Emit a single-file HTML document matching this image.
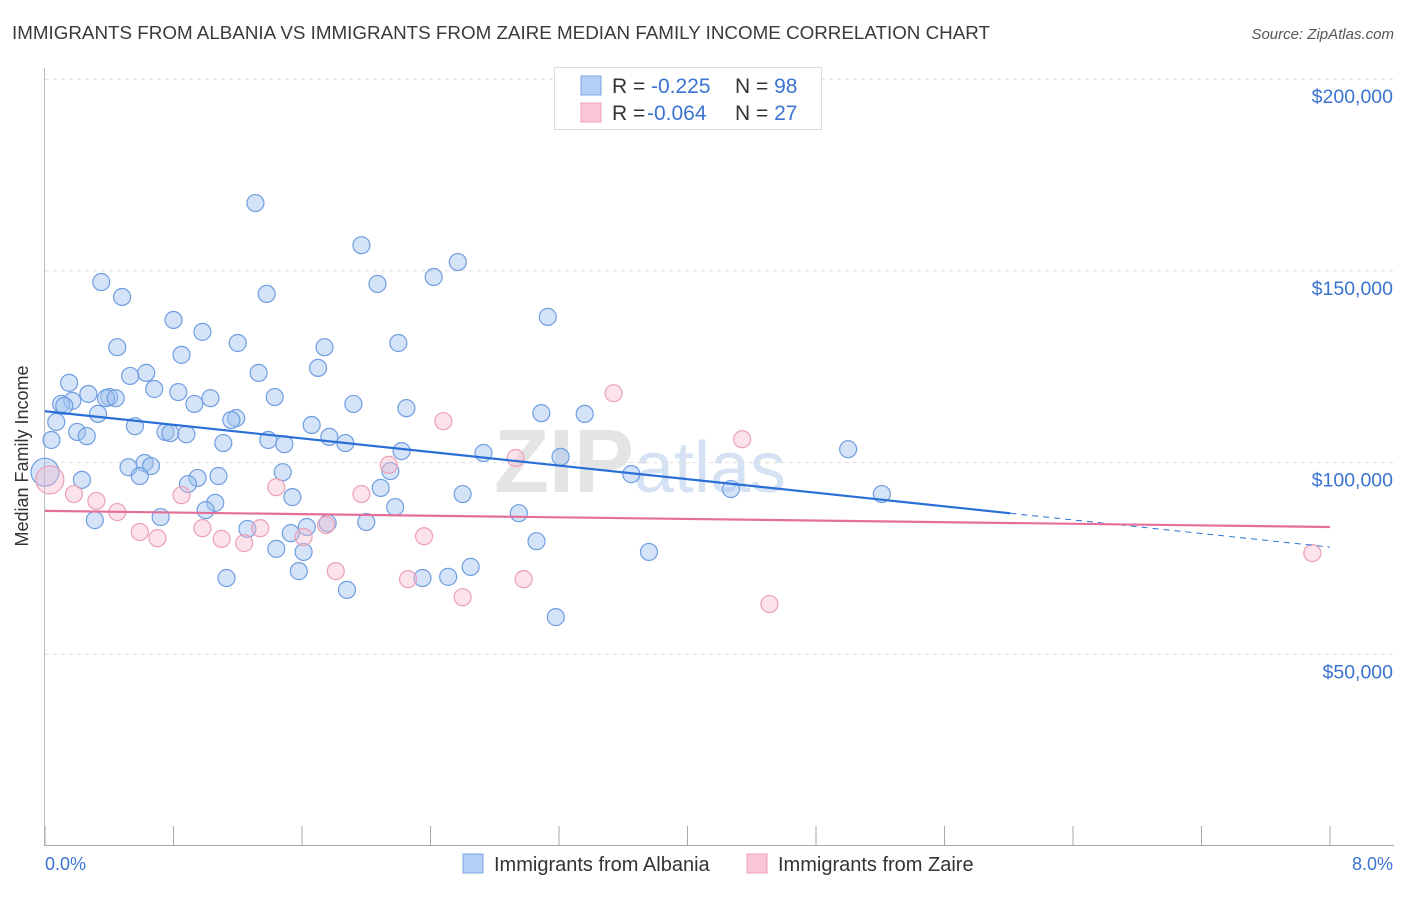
<!DOCTYPE html>
<html><head><meta charset="utf-8"><style>
body{margin:0;background:#fff;font-family:"Liberation Sans",sans-serif;}
svg text{font-family:"Liberation Sans",sans-serif;}
</style></head><body>
<svg id="chart" width="1406" height="892" xmlns="http://www.w3.org/2000/svg">
<text x="12" y="39" font-size="18.8" fill="#3a3a3a" textLength="978">IMMIGRANTS FROM ALBANIA VS IMMIGRANTS FROM ZAIRE MEDIAN FAMILY INCOME CORRELATION CHART</text>
<text x="1394" y="39" font-size="15" fill="#555" font-style="italic" text-anchor="end">Source: ZipAtlas.com</text>
<text x="640" y="492" font-size="90" fill="#e4e4e4" font-family="Liberation Serif" font-weight="bold" text-anchor="middle">ZIP<tspan fill="#d5e2f3" font-family="Liberation Sans" font-weight="normal" font-size="72">atlas</tspan></text>
<g id="grid"></g><g id="marks"></g>
<text transform="translate(28,456) rotate(-90)" font-size="18" fill="#333" text-anchor="middle">Median Family Income</text>
<text x="45" y="870" font-size="18" fill="#3a73d0">0.0%</text>
<text x="1393" y="870" font-size="18" fill="#3a73d0" text-anchor="end">8.0%</text>
<g>
<rect x="554.5" y="67.5" width="267" height="62" fill="#fff" stroke="#ddd"/>
<rect x="581" y="76" width="20" height="19" fill="#b4cff5" stroke="#7aa6e0"/>
<rect x="581" y="103" width="20" height="19" fill="#fac6d6" stroke="#eda0b8"/>
<text x="612" y="93" font-size="21" fill="#333">R = <tspan x="651" fill="#3a73d0">-0.225</tspan><tspan x="735">N = </tspan><tspan fill="#3a73d0">98</tspan></text>
<text x="612" y="120" font-size="21" fill="#333">R = <tspan x="647" fill="#3a73d0">-0.064</tspan><tspan x="735">N = </tspan><tspan fill="#3a73d0">27</tspan></text>
</g>
<g>
<rect x="463" y="854" width="20" height="19" fill="#b4cff5" stroke="#7aa6e0"/>
<text x="494" y="871" font-size="20" fill="#333">Immigrants from Albania</text>
<rect x="747" y="854" width="20" height="19" fill="#fac6d6" stroke="#eda0b8"/>
<text x="778" y="871" font-size="20" fill="#333">Immigrants from Zaire</text>
</g>
</svg>
<script>
const yTicks=[50000,100000,150000,200000];
const yTickLabels=["$50,000","$100,000","$150,000","$200,000"];
const xTicks=[0,0.8,1.6,2.4,3.2,4,4.8,5.6,6.4,7.2,8];
const albaniaX=[1.31,1.97,2.57,2.42,2.07,0.35,1.38,0.48,3.13,0.80,0.98,0.45,1.20,1.74,2.20,0.85,1.70,0.63,1.33,0.53,0.15,0.68,0.83,0.27,0.40,0.38,0.44,0.17,0.10,0.12,1.43,1.03,0.93,1.92,2.25,0.33,3.09,3.36,1.19,1.16,1.66,0.56,0.20,0.75,0.78,0.88,0.26,0.04,1.77,1.39,1.11,1.49,1.87,0.07,2.22,2.73,3.21,5.00,0.62,0.66,0.52,2.15,3.65,1.48,1.08,0.59,0.95,0.89,0.23,2.09,4.27,2.60,1.54,5.21,1.06,1.00,2.18,2.95,0.72,0.31,2.00,1.76,1.63,1.26,1.53,3.06,1.44,1.61,3.76,1.58,2.65,2.51,2.35,1.13,1.88,3.18,0.00];
const albaniaY=[167700,156700,152300,148400,146600,147100,144000,143200,138000,137200,134100,130100,131200,130100,131200,128100,124700,123400,123400,122600,120800,119200,118400,117900,117100,116800,116800,116100,115300,114800,117100,116800,115300,115300,114200,112700,112900,112700,111600,111100,109800,109500,108000,108000,107700,107400,106900,105900,106700,105900,105100,104800,105100,110600,103000,102500,101500,103500,99900,99100,98800,97800,97000,97500,96500,96500,96000,94400,95500,93400,93100,91800,91000,91800,89500,87600,88400,86800,85800,85000,84500,84200,83200,82700,81600,79500,77500,76700,76700,71700,72800,70200,69900,69900,66800,59700,97500];
const zaireX=[0.03,0.18,0.32,0.45,0.59,0.70,0.85,0.98,1.10,1.24,1.34,1.44,1.61,1.75,1.81,1.97,2.14,2.26,2.36,2.48,2.60,2.93,2.98,3.54,4.34,4.51,7.89];
const zaireY=[95500,91800,90000,87100,81900,80300,91500,82900,80100,79000,82900,93600,80600,83700,71700,91800,99400,69600,80800,110800,64900,101200,69600,118100,106100,63100,76400];
const albaniaTrend=[113400,-4430]; // intercept, slope per %
const albaniaSolidEnd=6.01;
const zaireTrend=[87400,-525];
const sx=v=>45+v/8*1285;
const sy=v=>846-v/50000*191.7;
const NS="http://www.w3.org/2000/svg";
const grid=document.getElementById('grid'),marks=document.getElementById('marks');
function mk(p,tag,a){const e=document.createElementNS(NS,tag);for(const k in a)e.setAttribute(k,a[k]);p.appendChild(e);return e;}
yTicks.forEach((t,i)=>{
 const l=mk(grid,'line',{x1:45,x2:1394,y1:sy(t),y2:sy(t),stroke:'#ddd','stroke-dasharray':'4,4'});
 
 
 const tx=mk(grid,'text',{x:1393,y:sy(t)+24,'font-size':19.5,fill:'#3a73d0','text-anchor':'end'});
 tx.textContent=yTickLabels[i];
 
 
});
const ax=mk(grid,'line',{x1:45,x2:1394,y1:845.5,y2:845.5,stroke:'#aaa'});


const ay=mk(grid,'line',{x1:44.5,x2:44.5,y1:68,y2:846,stroke:'#bbb'});


xTicks.forEach(t=>{
 const l=mk(grid,'line',{x1:sx(t),x2:sx(t),y1:826,y2:846,stroke:'#aaa'});
 
 
});
albaniaX.forEach((x,i)=>{
 const big=i===albaniaX.length-1;
 const c=mk(marks,'circle',{cx:sx(x),cy:sy(albaniaY[i]),r:big?14:8.5,fill:'rgba(160,192,240,0.45)',stroke:'#6f9ee0','stroke-width':1.2});
 
 
});
zaireX.forEach((x,i)=>{
 const c=mk(marks,'circle',{cx:sx(x),cy:sy(zaireY[i]),r:i===0?14:8.5,fill:'rgba(248,185,205,0.4)',stroke:'#eba0b8','stroke-width':1.2});
 
 
});
const f=(tr,x)=>tr[0]+tr[1]*x;
const b1=mk(marks,'line',{x1:sx(0),y1:sy(f(albaniaTrend,0)),x2:sx(albaniaSolidEnd),y2:sy(f(albaniaTrend,albaniaSolidEnd)),stroke:'#2a6fd6','stroke-width':2.2});


const b2=mk(marks,'line',{x1:sx(albaniaSolidEnd),y1:sy(f(albaniaTrend,albaniaSolidEnd)),x2:sx(8),y2:sy(f(albaniaTrend,8)),stroke:'#2a6fd6','stroke-width':1,'stroke-dasharray':'6,5'});


const p1=mk(marks,'line',{x1:sx(0),y1:sy(f(zaireTrend,0)),x2:sx(8),y2:sy(f(zaireTrend,8)),stroke:'#e4709a','stroke-width':2.2});


</script>
</body></html>
